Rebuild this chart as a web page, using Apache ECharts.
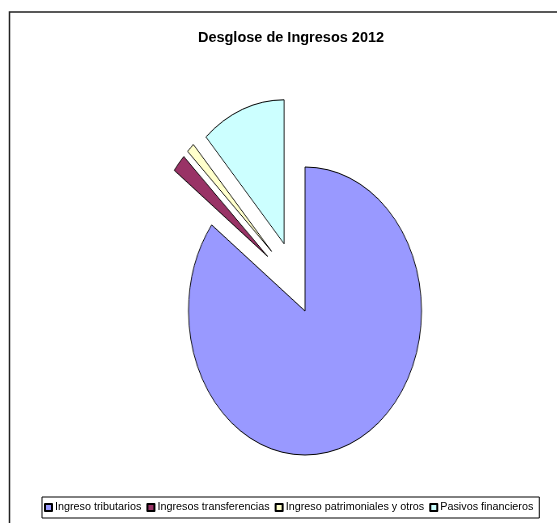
<!DOCTYPE html>
<html>
<head>
<meta charset="utf-8">
<title>Desglose de Ingresos 2012</title>
<script src="https://cdn.jsdelivr.net/npm/echarts@6/dist/echarts.min.js"></script>
<style>
  html, body { margin: 0; padding: 0; background: #fff; }
  #wrap { position: relative; width: 557px; height: 523px; overflow: hidden; }
  #main { position: absolute; left: 0; top: 0; width: 557px; height: 523px; }
  /* el pie de Excel sale ovalado, se estira con CSS */
  #pie { position: absolute; left: 64.6px; top: 70.5px; width: 480px; height: 480px;
         transform: scaleX(0.809); transform-origin: 50% 50%; }
</style>
</head>
<body>
<div id="wrap">
  <div id="main"></div>
  <div id="pie"></div>
</div>
<script>
// datos
const titleText = 'Desglose de Ingresos 2012'
const categories = ['Ingreso tributarios', 'Ingresos transferencias', 'Ingreso patrimoniales y otros', 'Pasivos financieros']
const values = [85.2, 2.0, 1.1, 11.7]
const exploded = [false, true, true, true]
const colors = ['#9999FF', '#993366', '#FFFFCC', '#CCFFFF']
// las dos porciones finas se separan un poco mas hacia arriba en el original
const shiftedGroup = [false, true, true, false]

const fontFamily = "'Liberation Sans', Arial, sans-serif"

const pieData = categories.map((name, i) => ({
  name: name,
  value: values[i],
  selected: exploded[i],
  itemStyle: { color: colors[i] }
}))

// mismos datos, pero solo se pintan las porciones del grupo indicado
const groupData = (inGroup) => categories.map((name, i) => {
  const show = shiftedGroup[i] === inGroup
  return {
    name: name,
    value: values[i],
    selected: exploded[i],
    itemStyle: show
      ? { color: colors[i], borderColor: '#000', borderWidth: 1 }
      : { color: 'rgba(0,0,0,0)', borderColor: 'rgba(0,0,0,0)', borderWidth: 0 }
  }
})

// grafico base: marco, titulo y leyenda
const mainChart = echarts.init(document.getElementById('main'))
mainChart.setOption({
  animation: false,
  graphic: [{
    type: 'rect',
    z: -10,
    shape: { x: 9.5, y: 12, width: 580, height: 560 },
    style: { fill: 'none', stroke: '#222', lineWidth: 1.5 }
  }],
  title: {
    text: titleText,
    left: 286,
    textAlign: 'center',
    top: 25,
    textStyle: { fontFamily: fontFamily, fontSize: 14.5, fontWeight: 'bold', color: '#000' }
  },
  legend: {
    data: categories,
    left: 42,
    top: 497,
    width: 510,
    orient: 'horizontal',
    icon: 'rect',
    itemWidth: 7,
    itemHeight: 7,
    itemGap: 5,
    padding: [5, 6, 5, 2],
    borderColor: '#000',
    borderWidth: 1,
    textStyle: { fontFamily: fontFamily, fontSize: 10.8, color: '#000', padding: [0, 0, 0, -2] }
  },
  series: [{
    // solo para la leyenda, fuera de la vista
    type: 'pie',
    center: [-1000, -1000],
    radius: 1,
    label: { show: false },
    itemStyle: { borderColor: '#000', borderWidth: 1 },
    data: pieData
  }]
})

// pie explotado
const pieBase = {
  type: 'pie',
  radius: 144,
  startAngle: 90,
  clockwise: true,
  selectedMode: 'multiple',
  selectedOffset: 72,
  label: { show: false },
  labelLine: { show: false },
  emphasis: { scale: false },
  itemStyle: { borderColor: '#000', borderWidth: 1 }
}

const pieChart = echarts.init(document.getElementById('pie'))
pieChart.setOption({
  animation: false,
  legend: { show: false, data: categories },
  series: [
    Object.assign({}, pieBase, { center: [240, 240], data: groupData(false) }),
    Object.assign({}, pieBase, { center: [248.7, 232], data: groupData(true) })
  ]
})

mainChart.on('legendselectchanged', e => {
  pieChart.dispatchAction({ type: e.selected[e.name] ? 'legendSelect' : 'legendUnSelect', name: e.name })
})
</script>
</body>
</html>
